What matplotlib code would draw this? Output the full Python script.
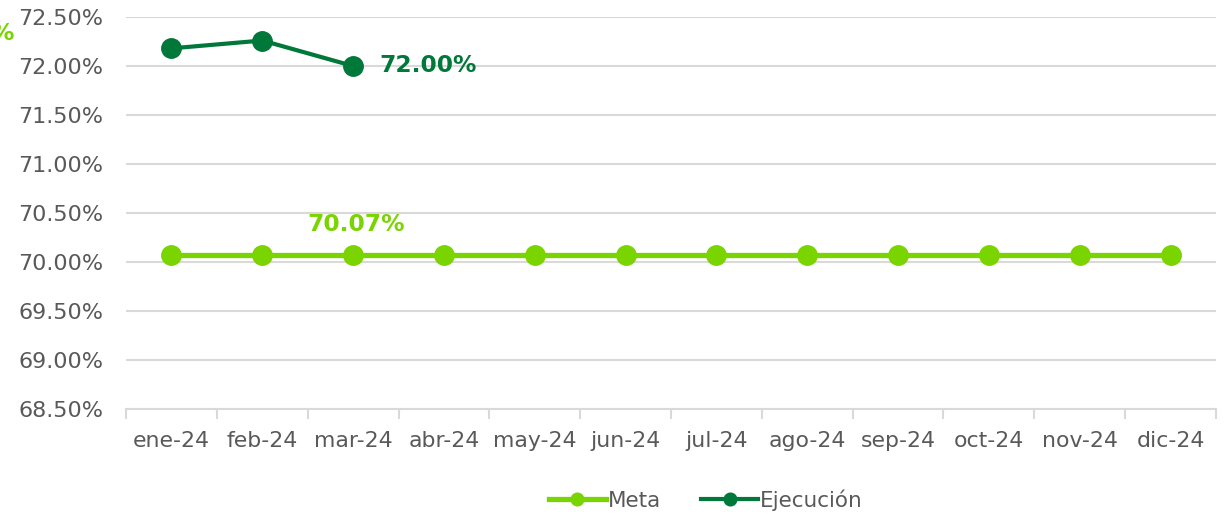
import numpy as np
import matplotlib
matplotlib.use('Agg')
import matplotlib.pyplot as plt
from matplotlib.ticker import FuncFormatter, MultipleLocator

meses = ['ene-24', 'feb-24', 'mar-24', 'abr-24', 'may-24', 'jun-24',
         'jul-24', 'ago-24', 'sep-24', 'oct-24', 'nov-24', 'dic-24']
meta = [70.07] * 12
meta_label = '70.07%'
ejecucion = [72.18, 72.26, 72.00]
ejec_label = '72.00%'

c_meta = '#7AD400'
c_ejec = '#00783A'
c_text = '#595959'
c_grid = '#D9D9D9'

plt.rcParams['font.family'] = ['DejaVu Sans']

fig = plt.figure(figsize=(12.3, 5.19), dpi=100)
ax = fig.add_axes([126 / 1230, 1 - 409 / 519, 1090 / 1230, 392 / 519])

x = np.arange(len(meses))
ax.plot(x, meta, color=c_meta, lw=3.8, marker='o', ms=14, label='Meta', zorder=3)
ax.plot(x[:len(ejecucion)], ejecucion, color=c_ejec, lw=3.0, marker='o', ms=14,
        label='Ejecución', zorder=4)

# data labels
ax.annotate(ejec_label, (x[len(ejecucion) - 1], ejecucion[-1]), xytext=(19, 0),
            textcoords='offset points', ha='left', va='center',
            color=c_ejec, fontsize=16.8, fontweight='bold')
ax.annotate(meta_label, (2, meta[2]), xytext=(2, 22),
            textcoords='offset points', ha='center', va='center',
            color=c_meta, fontsize=16.8, fontweight='bold',
            arrowprops=dict(arrowstyle='-', color='#A6A6A6', lw=0.8,
                            shrinkA=6, shrinkB=1), zorder=5)

ax.set_xlim(-0.5, len(meses) - 0.5)
ax.set_ylim(68.5, 72.5)
ax.yaxis.set_major_locator(MultipleLocator(0.5))
ax.yaxis.set_major_formatter(FuncFormatter(lambda v, p: '%.2f%%' % v))
ax.set_xticks(x)
ax.set_xticklabels(meses)
ax.set_xticks(np.arange(-0.5, len(meses), 1), minor=True)
ax.tick_params(axis='x', which='major', length=0, pad=16, labelsize=15.8, labelcolor=c_text)
ax.tick_params(axis='x', which='minor', length=7, width=1.5, color=c_grid)
ax.tick_params(axis='y', length=0, pad=16.5, labelsize=16, labelcolor=c_text)

ax.grid(axis='y', color=c_grid, lw=1.5, zorder=0)
ax.set_axisbelow(True)
for s in ['top', 'right', 'left']:
    ax.spines[s].set_visible(False)
ax.spines['bottom'].set_color(c_grid)
ax.spines['bottom'].set_linewidth(1.5)

leg = ax.legend(loc='center', bbox_to_anchor=(0.532, -0.232), ncol=2,
                frameon=False, fontsize=15.5, handlelength=2.65, handletextpad=0.1,
                columnspacing=1.85, markerscale=0.65)
for t in leg.get_texts():
    t.set_color(c_text)

# cropped label of a neighbouring chart
fig.text(-0.008, 1 - 33 / 519, '%', color=c_meta, fontsize=16.8, fontweight='bold',
         ha='left', va='center')

fig.savefig('out.png', dpi=100)
